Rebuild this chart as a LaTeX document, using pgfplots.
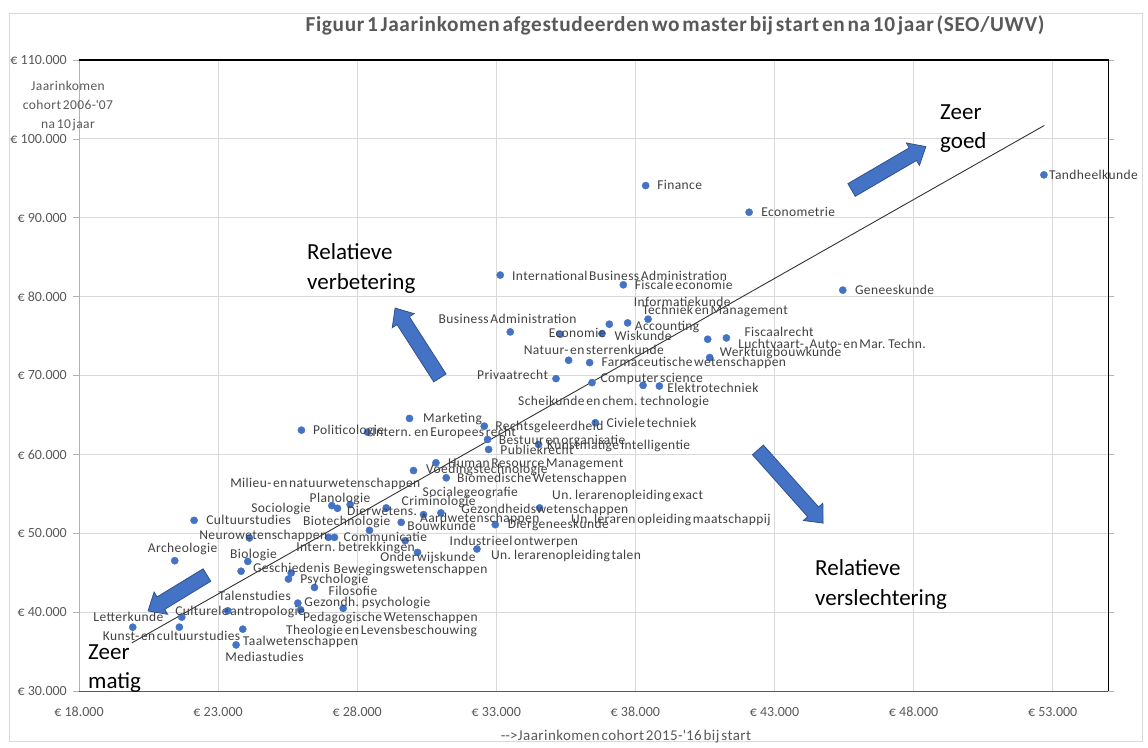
\documentclass[border=0pt]{standalone}
\usepackage{pgfplots}
\pgfplotsset{compat=1.18}
\usepackage{pgfplotstable}
\usepackage{fontspec}
\setmainfont{Carlito}
\newfontfamily\lblfont[LetterSpace=3.0,WordSpace=0.5]{Carlito}
\definecolor{dotblue}{HTML}{4472C4}
\definecolor{lblgray}{HTML}{404040}
\definecolor{txtgray}{HTML}{595959}
\definecolor{gridgray}{HTML}{D9D9D9}
\definecolor{arrowedge}{HTML}{2F528F}

\pgfplotstableread{
x y
52686 95436
38370 94077
42089 90697
45456 80824
33143 82730
37568 81498
33503 75526
35302 75233
36802 75322
37064 76504
37722 76669
38456 77139
40600 74598
41273 74763
40672 72273
35600 71930
36356 71638
35147 69605
36442 69096
38276 68753
38863 68664
29881 64560
25996 63074
28370 62820
32568 63582
32687 61892
32723 60621
36561 64014
34521 61257
30831 58932
30025 57953
31201 57026
27090 53506
27291 53163
27748 53633
29043 53214
30385 52363
31010 52579
29582 51384
28442 50368
26967 49478
27183 49478
29726 49059
30169 47572
32305 48004
34557 53214
32964 51092
22137 51638
24126 49402
21442 46518
24068 46429
23827 45184
25626 44955
25529 44193
26464 43125
25867 41143
25967 40292
27496 40482
23349 40165
21694 39364
19932 38094
21608 38094
23888 37840
23647 35845
}\dots

\pgfplotstableread[col sep=semicolon]{
lx;ly;name
52866;95436;Tandheelkunde
38780;94077;Finance
42521;90697;Econometrie
45888;80824;Geneeskunde
33564;82641;International Business Administration
37974;81498;Fiscale economie
37938;79338;Informatiekunde
38240;78283;Techniek en Management
30924;77139;Business Administration
37974;76250;Accounting
34881;75322;Economie
37244;74941;Wiskunde
41920;75526;Fiscaalrecht
41693;73963;Luchtvaart-, Auto- en Mar. Techn.
41032;72908;Werktuigbouwkunde
33982;73200;Natuur- en sterrenkunde
36776;71638;Farmaceutische wetenschappen
32305;70024;Privaatrecht
36740;69605;Computer science
39139;68334;Elektrotechniek
33780;66759;Scheikunde en chem. technologie
30363;64560;Marketing
26406;63074;Politicologie
28539;62781;Intern. en Europees recht
32964;63582;Rechtsgeleerdheid
36956;64014;Civiele techniek
33082;61765;Bestuur en organisatie
34823;61168;Kunstmatige Intelligentie
33143;60532;Publiekrecht
31262;58843;Human Resource Management
30471;58080;Voedingstechnologie
31586;56937;Biomedische Wetenschappen
23431;56301;Milieu- en natuurwetenschappen
30349;55158;Socialegeografie
35003;54815;Un. lerarenopleiding exact
26284;54485;Planologie
29593;54014;Criminologie
24187;53125;Sociologie
27629;52782;Dierwetens.
31741;52998;Gezondheidswetenschappen
30255;51880;Aardwetenschappen
35686;51727;Un. leraren opleiding maatschappij
22568;51638;Cultuurstudies
26047;51473;Biotechnologie
33406;51181;Diergeneeskunde
29798;50876;Bouwkunde
22316;49732;Neurowetenschappen
27507;49478;Communicatie
31320;49021;Industrieel ontwerpen
25805;48208;Intern. betrekkingen
20471;48132;Archeologie
23421;47407;Biologie
32809;47280;Un. lerarenopleiding talen
28827;46963;Onderwijskunde
24248;45565;Geschiedenis
27147;45501;Bewegingswetenschappen
25949;44193;Psychologie
26967;42617;Filosofie
23011;41982;Talenstudies
26093;41219;Gezondh. psychologie
21453;40165;Culturele antropologie
26047;39402;Pedagogische Wetenschappen
18514;39364;Letterkunde
25435;37687;Theologie en Levensbeschouwing
18853;36988;Kunst- en cultuurstudies
23888;36353;Taalwetenschappen
23252;34231;Mediastudies
}\labels

\tikzset{
  lbl/.style={inner sep=0pt, text height=8.7pt, text depth=0pt, font=\lblfont\fontsize{13.5}{16}\selectfont},
  big/.style={inner sep=0pt, anchor=base west, font=\fontsize{23}{28}\selectfont, text=black},
}
% block arrow: centre x, centre y, angle, half length, shaft end
\newcommand{\blockarrow}[5]{%
  \draw[arrowedge, fill=dotblue, line width=0.8pt, line join=miter, shift={(#1pt,#2pt)}, rotate=#3]
    (-#4pt,-7.3pt) -- (#5pt,-7.3pt) -- (#5pt,-13pt) -- (#4pt,0pt) -- (#5pt,13pt) -- (#5pt,7.3pt) -- (-#4pt,7.3pt) -- cycle;}

\begin{document}
\begin{tikzpicture}
\path[use as bounding box] (0pt,0pt) rectangle (1148pt,747pt);
\draw[gridgray, line width=0.8pt] (9pt,6pt) rectangle (1142pt,734pt);
\begin{axis}[
  at={(79pt,56pt)}, anchor=south west,
  width=1029.3pt, height=631pt, scale only axis,
  xmin=18000, xmax=55000, ymin=30000, ymax=110000,
  clip=false, scaled ticks=false,
  axis line style={draw=none},
  xtick={18000,23000,28000,33000,38000,43000,48000,53000},
  xticklabels={€ 18.000,€ 23.000,€ 28.000,€ 33.000,€ 38.000,€ 43.000,€ 48.000,€ 53.000},
  ytick={30000,40000,50000,60000,70000,80000,90000,100000,110000},
  yticklabels={€ 30.000,€ 40.000,€ 50.000,€ 60.000,€ 70.000,€ 80.000,€ 90.000,€ 100.000,€ 110.000},
  grid=major,
  major grid style={draw=gridgray, line width=0.8pt},
  xtick style={draw=none},
  ytick style={draw=gray!60, line width=0.6pt},
  tick align=outside, major tick length=6pt,
  ticklabel style={font=\fontsize{14}{16}\selectfont, text=txtgray},
  yticklabel style={anchor=east, inner sep=0pt, xshift=-6pt},
  xticklabel style={anchor=north, inner sep=0pt, yshift=-10pt},
]
\draw[gray!60, line width=0.8pt] (rel axis cs:0,0) -- (rel axis cs:0,1);
\draw[txtgray, line width=0.8pt] (rel axis cs:0,0) -- (rel axis cs:1,0);
\draw[black, line width=1.5pt] (rel axis cs:0,1) -- (rel axis cs:1,1) -- (rel axis cs:1,0);
\addplot[no marks, color=black!80, line width=0.9pt] coordinates {(19900,36100) (52700,101700)};
\addplot[only marks, mark=*, mark size=3.6pt, color=dotblue] table[x=x,y=y] {\dots};
\addplot[only marks, mark=none, nodes near coords, point meta=explicit symbolic,
  nodes near coords style={lbl, anchor=west, text=lblgray}] table[x=lx,y=ly,meta=name] {\labels};
\end{axis}
% titles
\node[inner sep=0pt, text=txtgray, font=\lblfont\bfseries\fontsize{21.3}{25}\selectfont] at (675pt,722pt) {Figuur 1 Jaarinkomen afgestudeerden wo master bij start en na 10 jaar (SEO/UWV)};
\node[lbl, text=txtgray] at (68pt,661pt) {Jaarinkomen};
\node[lbl, text=txtgray] at (68pt,642pt) {cohort 2006-\textquotesingle 07};
\node[lbl, text=txtgray] at (68pt,623pt) {na 10 jaar};
\node[inner sep=0pt, text height=9.5pt, text depth=0pt, font=\lblfont\fontsize{15}{18}\selectfont, text=txtgray] at (626pt,11pt) {\mbox{-}\mbox{-}>Jaarinkomen cohort 2015-\textquotesingle 16 bij start};
% annotations
\node[big] at (940pt,627.6pt) {Zeer};
\node[big] at (940pt,598.6pt) {goed};
\node[big] at (307pt,487.6pt) {Relatieve};
\node[big] at (307pt,457.6pt) {verbetering};
\node[big] at (815pt,171.6pt) {Relatieve};
\node[big] at (815pt,141.6pt) {verslechtering};
\node[big] at (88pt,87.6pt) {Zeer};
\node[big] at (88pt,58.6pt) {matig};
% block arrows
\blockarrow{888.7}{578.7}{30.3}{43}{28}
\blockarrow{417.5}{404}{122.7}{41.5}{26.5}
\blockarrow{790.5}{260.5}{-48.3}{49}{34}
\blockarrow{177.5}{154}{211.4}{34.5}{19.5}
\end{tikzpicture}
\end{document}
